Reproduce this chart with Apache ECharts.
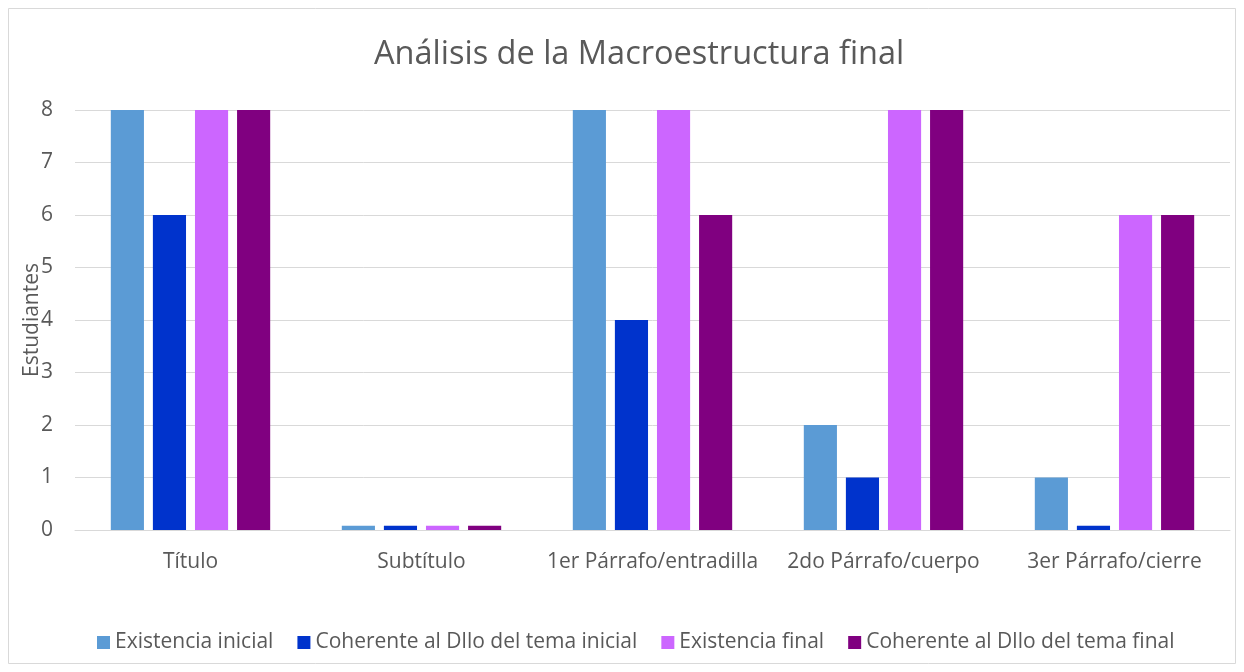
<!DOCTYPE html>
<html>
<head>
<meta charset="utf-8">
<script src="https://cdn.jsdelivr.net/npm/echarts@6/dist/echarts.min.js"></script>
<style>
  html, body { margin: 0; padding: 0; background: #fff; }
  #chart { width: 1244px; height: 672px; }
</style>
</head>
<body>
<div id="chart"></div>
<script>
// datos
const categories = ["Título", "Subtítulo", "1er Párrafo/entradilla", "2do Párrafo/cuerpo", "3er Párrafo/cierre"];
const existenciaInicial = [8, 0.08, 8, 2, 1];
const coherenteInicial = [6, 0.08, 4, 1, 0.08];
const existenciaFinal = [8, 0.08, 8, 8, 6];
const coherenteFinal = [8, 0.08, 6, 8, 6];
const seriesNames = ["Existencia inicial", "Coherente al Dllo del tema inicial", "Existencia final", "Coherente al Dllo del tema final"];

const myChart = echarts.init(document.getElementById("chart"));
const font = "'Open Sans', sans-serif";

const option = {
  backgroundColor: "#fff",
  textStyle: { fontFamily: font },
  title: {
    text: "Análisis de la Macroestructura final",
    left: 369,
    top: 33,
    textStyle: { fontSize: 32.5, fontWeight: "normal", color: "#595959", fontFamily: font },
  },
  color: ["#5B9BD5", "#0033CC", "#CC66FF", "#800080"],
  legend: {
    bottom: 14,
    left: 92,
    itemWidth: 13,
    itemHeight: 13,
    itemGap: 24,
    icon: "rect",
    textStyle: { fontSize: 21, color: "#595959", fontFamily: font },
    data: seriesNames,
  },
  grid: { left: 75, right: 14, top: 110, bottom: 142 },
  xAxis: {
    type: "category",
    data: categories,
    axisTick: { show: false },
    axisLine: { lineStyle: { color: "#d9d9d9", width: 1 } },
    axisLabel: { fontSize: 21, color: "#595959", margin: 22, interval: 0 },
  },
  yAxis: {
    type: "value",
    min: 0,
    max: 8,
    interval: 1,
    name: "Estudiantes",
    nameLocation: "middle",
    nameGap: 32,
    nameMoveOverlap: false,
    nameTextStyle: { fontSize: 21, color: "#595959" },
    axisLine: { show: false },
    axisTick: { show: false },
    axisLabel: { fontSize: 21, color: "#595959", margin: 22 },
    splitLine: { lineStyle: { color: "#d9d9d9", width: 1 } },
  },
  series: [
    { name: seriesNames[0], type: "bar", data: existenciaInicial, barGap: "27%", barCategoryGap: "31%" },
    { name: seriesNames[1], type: "bar", data: coherenteInicial },
    { name: seriesNames[2], type: "bar", data: existenciaFinal },
    { name: seriesNames[3], type: "bar", data: coherenteFinal },
  ],
  graphic: [{
    type: "rect",
    shape: { x: 8.5, y: 8.5, width: 1227, height: 655 },
    style: { fill: null, stroke: "#d9d9d9", lineWidth: 1 },
    silent: true,
  }],
};
myChart.setOption(option);
</script>
</body>
</html>
